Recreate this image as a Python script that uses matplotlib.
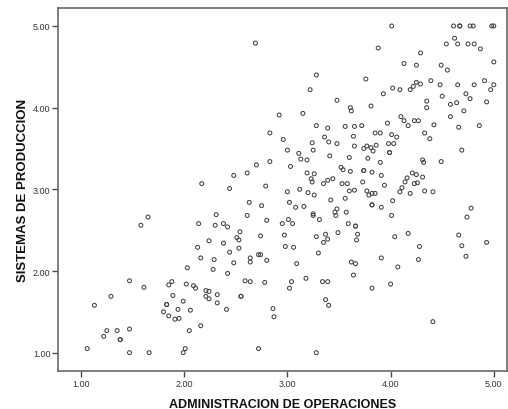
import matplotlib
matplotlib.use("Agg")
import matplotlib.pyplot as plt

plt.rcParams['font.family'] = ['Liberation Sans', 'DejaVu Sans']

x_label = "ADMINISTRACION DE OPERACIONES"
y_label = "SISTEMAS DE PRODUCCION"
tick_values = [1.0, 2.0, 3.0, 4.0, 5.0]
tick_labels = ["1.00", "2.00", "3.00", "4.00", "5.00"]

admin_ops = [
    2.69, 3.28, 3.22, 3.48, 2.92, 3.15, 3.28, 3.39, 3.56,
    4.01, 4.61, 4.67, 4.67, 4.77, 4.80, 4.98, 5.00, 3.88, 4.62, 4.54, 4.65, 4.75, 4.81,
    4.87, 4.29, 4.13, 4.25, 4.49, 4.55, 5.00, 3.76, 4.25, 4.29, 4.22, 4.39, 4.48, 4.65,
    4.81, 4.91, 5.00, 4.97, 4.02, 4.09, 4.19, 3.93, 4.73, 4.50, 4.77, 4.35, 4.35, 4.58,
    4.64, 4.93, 4.71, 3.61, 3.62, 3.81, 4.10, 4.13, 4.23, 4.27, 3.97, 4.42, 4.58, 4.17,
    4.66, 4.86, 3.65, 3.72,
    3.64, 3.85, 3.90, 4.01, 4.06, 4.33, 4.38, 3.65, 3.74, 3.77, 3.81, 3.83, 3.86, 3.98,
    4.03, 3.99, 3.99, 4.69, 3.60, 3.78, 3.90, 4.31, 4.32, 4.49, 3.52, 3.54, 3.61, 3.74, 3.74,
    3.82, 3.91, 4.21, 4.25, 4.31, 4.16, 4.14, 4.23, 4.26, 3.53, 3.58, 3.73, 3.94, 4.11,
    4.09, 4.33, 4.41, 4.19, 3.60, 3.65, 3.77, 3.79, 3.82, 3.85, 3.56, 4.02, 3.82, 3.82, 3.91,
    4.78, 3.57, 4.01, 4.74, 3.59, 3.66, 3.66, 3.68, 3.67, 4.04, 4.17, 4.66, 4.93, 4.28, 4.69,
    3.62, 3.66, 3.64, 3.91, 4.07, 4.27, 3.82, 4.00, 4.73, 4.41,
    2.83, 2.96, 3.24, 3.40, 3.48, 3.36, 3.00, 3.25, 3.11, 3.13, 3.19, 3.41, 2.83, 2.70,
    3.03, 2.61, 2.48, 3.19, 3.26, 3.23, 3.24, 3.35, 3.39, 3.44, 2.17, 2.44, 2.79, 3.00,
    3.12, 3.20, 3.26, 3.42, 2.63, 2.75, 3.02, 3.08, 3.16, 3.48, 3.46, 3.47, 3.25, 3.25,
    3.31, 2.31, 2.61, 2.80, 3.01, 3.05, 2.95, 2.30, 2.38, 2.42, 2.54, 2.97, 2.74, 2.51,
    2.53, 3.28, 3.37, 3.39, 3.35, 3.49, 2.24, 2.38, 2.98, 3.06, 2.53,
    2.44, 3.30, 2.72, 2.74, 2.64, 2.64, 2.80, 2.29, 2.48, 3.09, 2.16, 2.28, 2.42, 2.59,
    2.64, 2.78, 3.04, 3.18, 3.34, 3.39, 3.02, 2.21, 2.24, 2.21, 2.24, 2.32, 2.55, 2.55, 2.32,
    2.41, 2.86, 2.87, 3.37, 3.40, 2.16, 2.72, 3.28,
    1.65, 1.58, 2.14, 2.13,
    2.03, 1.47, 1.61, 1.85, 1.88, 2.02, 2.09, 2.11, 1.89, 1.29, 1.13, 1.83, 1.83, 1.99,
    1.94, 2.06, 1.80, 1.85, 1.91, 1.95, 2.05, 1.25, 1.35, 1.47, 1.22, 1.38, 1.38, 1.06,
    1.47, 1.66, 2.01, 1.99,
]

prod_sys = [
    4.79, 4.40, 4.22, 4.09, 3.91, 3.93, 3.78, 3.75, 3.77,
    5.00, 5.00, 5.00, 5.00, 5.00, 5.00, 5.00, 5.00, 4.73, 4.85, 4.78, 4.78, 4.78, 4.78,
    4.72, 4.67, 4.54, 4.52, 4.52, 4.46, 4.56, 4.35, 4.31, 4.29, 4.26, 4.33, 4.28, 4.28,
    4.28, 4.33, 4.28, 4.22, 4.24, 4.22, 4.22, 4.17, 4.17, 4.14, 4.11, 4.08, 4.00, 4.04,
    4.06, 4.07, 3.96, 4.00, 3.96, 4.02, 3.89, 3.84, 3.84, 3.84, 3.81, 3.79, 3.89, 3.78,
    3.76, 3.78, 3.77, 3.78,
    3.65, 3.69, 3.69, 3.67, 3.64, 3.69, 3.62, 3.53, 3.50, 3.53, 3.51, 3.47, 3.54, 3.56,
    3.56, 3.45, 3.45, 3.48, 3.39, 3.38, 3.33, 3.36, 3.33, 3.34, 3.27, 3.24, 3.22, 3.23, 3.23,
    3.21, 3.17, 3.20, 3.18, 3.15, 3.14, 3.09, 3.07, 3.08, 3.07, 3.07, 3.09, 3.05, 3.02,
    2.97, 2.98, 2.97, 2.95, 2.98, 2.99, 2.98, 2.93, 2.95, 2.95, 2.89, 2.86, 2.81, 2.81, 2.78,
    2.77, 2.72, 2.68, 2.66, 2.58, 2.55, 2.55, 2.45, 2.38, 2.42, 2.46, 2.44, 2.35, 2.30, 2.31,
    2.11, 2.09, 1.95, 2.16, 2.05, 2.14, 1.79, 1.84, 2.18, 1.38,
    3.69, 3.61, 3.57, 3.58, 3.56, 3.64, 3.48, 3.48, 3.44, 3.37, 3.36, 3.41, 3.34, 3.30,
    3.28, 3.20, 3.17, 3.20, 3.19, 3.13, 3.09, 3.07, 3.11, 3.13, 3.07, 3.01, 3.04, 2.97,
    3.00, 2.96, 2.93, 2.87, 2.84, 2.80, 2.84, 2.78, 2.79, 2.76, 2.72, 2.68, 2.70, 2.68,
    2.63, 2.69, 2.68, 2.62, 2.63, 2.58, 2.58, 2.56, 2.58, 2.54, 2.48, 2.44, 2.43, 2.41,
    2.38, 2.42, 2.45, 2.39, 2.35, 2.47, 2.37, 2.34, 2.30, 2.29, 2.28,
    2.23, 2.22, 2.20, 2.20, 2.16, 2.11, 2.13, 2.14, 2.10, 2.09, 2.16, 2.02, 1.97, 1.88,
    1.87, 1.86, 1.87, 1.91, 1.87, 1.87, 1.79, 1.76, 1.75, 1.69, 1.66, 1.71, 1.69, 1.69, 1.61,
    1.53, 1.54, 1.44, 1.65, 1.58, 1.33, 1.05, 1.00,
    2.66, 2.56, 2.58, 2.29,
    2.04, 1.88, 1.80, 1.83, 1.87, 1.84, 1.82, 1.79, 1.70, 1.69, 1.58, 1.59, 1.59, 1.63,
    1.53, 1.52, 1.50, 1.45, 1.41, 1.42, 1.27, 1.27, 1.27, 1.29, 1.20, 1.16, 1.16, 1.05,
    1.00, 1.00, 1.05, 1.00,
]

fig = plt.figure(figsize=(5.08, 4.10), dpi=100)
ax = fig.add_axes([58 / 508, 1 - 372.3 / 410, (507 - 58) / 508, (372.3 - 9) / 410])

ax.scatter(admin_ops, prod_sys, s=8, facecolors='none', edgecolors='#444444',
           linewidths=0.75, zorder=3)

ax.set_xlim(0.777, 5.128)
ax.set_ylim(0.772, 5.22)
ax.set_xticks(tick_values)
ax.set_xticklabels(tick_labels)
ax.set_yticks(tick_values)
ax.set_yticklabels(tick_labels)

for side in ['left', 'bottom', 'top', 'right']:
    ax.spines[side].set_color('#6a6a6a')
    ax.spines[side].set_linewidth(1.2)
ax.tick_params(axis='both', length=4, width=1.0, color='#4a4a4a',
               labelsize=6.5, labelcolor='#333333', pad=1.5)

ax.set_xlabel(x_label, fontsize=9, fontweight='bold', color='#111111', labelpad=7)
ax.set_ylabel(y_label, fontsize=9.5, fontweight='bold', color='#111111', labelpad=3)

fig.savefig('out.png', dpi=100)
